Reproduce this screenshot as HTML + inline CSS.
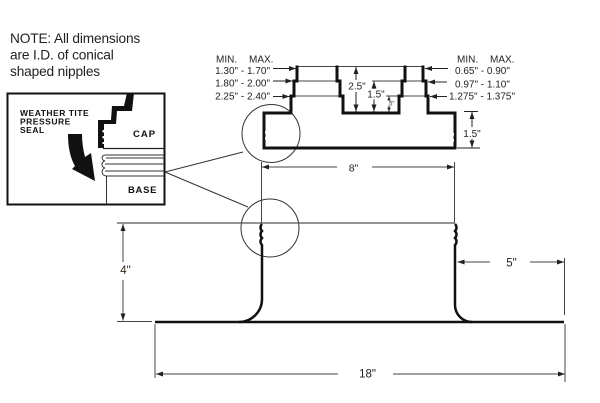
<!DOCTYPE html>
<html><head><meta charset="utf-8"><style>
html,body{margin:0;padding:0;background:#fff;width:600px;height:403px;overflow:hidden}
svg{display:block}
</style></head><body>
<svg width="600" height="403" viewBox="0 0 600 403" xmlns="http://www.w3.org/2000/svg" font-family="'Liberation Sans', Arial, sans-serif">
<defs>
<marker id="ar" markerUnits="userSpaceOnUse" markerWidth="7" markerHeight="5" refX="7" refY="2.5" orient="auto" viewBox="0 0 7 5"><path d="M0,0 L7,2.5 L0,5z" fill="#222"/></marker>
<marker id="sm" markerUnits="userSpaceOnUse" markerWidth="4" markerHeight="3.5" refX="4" refY="1.75" orient="auto" viewBox="0 0 4 3.5"><path d="M0,0 L4,1.75 L0,3.5z" fill="#222"/></marker>
</defs>

<!-- NOTE -->
<g fill="#222" font-size="13.7" letter-spacing="-0.15">
<text x="10" y="43">NOTE: All dimensions</text>
<text x="10" y="59.5">are I.D. of conical</text>
<text x="10" y="76">shaped nipples</text>
</g>

<!-- Inset box -->
<rect x="7.5" y="93.5" width="157" height="111" fill="#fff" stroke="#111" stroke-width="2"/>
<g font-weight="bold" fill="#111">
<text x="20" y="116" font-size="8.5" letter-spacing="0.5">WEATHER TITE</text>
<text x="20" y="124.5" font-size="8.5" letter-spacing="0.5">PRESSURE</text>
<text x="20" y="133" font-size="8.5" letter-spacing="0.5">SEAL</text>
<text x="133" y="137" font-size="9.5" letter-spacing="1">CAP</text>
<text x="128" y="193" font-size="9.5" letter-spacing="0.7">BASE</text>
</g>
<!-- cap stair -->
<polygon points="127,93 134,93 132,111 117,111 116,124 104,124 104,148 98,148 98,120 111,120 112,106 124,106" fill="#111"/>
<rect x="102.5" y="130" width="2.5" height="2.5" fill="#fff"/>
<rect x="102.5" y="136" width="2.5" height="2.5" fill="#fff"/>
<rect x="102.5" y="142" width="2.5" height="2" fill="#fff"/>
<line x1="103" y1="148.5" x2="164" y2="148.5" stroke="#222" stroke-width="1.2"/>
<!-- base ridges -->
<g stroke="#333" stroke-width="1" fill="none">
<path d="M164,155 H106 C101,155 101,160 105,161 C101,162 101,167 105,168 C101,169 101,175 106,176 H164"/>
<line x1="106" y1="158" x2="164" y2="158"/>
<line x1="105" y1="164" x2="164" y2="164"/>
<line x1="105" y1="171" x2="164" y2="171"/>
<line x1="106.5" y1="176" x2="106.5" y2="204"/>
</g>
<!-- big arrow -->
<path d="M68,134 C68,149 71,159 75,166 L72,169 L95,181 L91,153 L85,157 C83,149 82,142 82,134 Z" fill="#111"/>

<!-- connector lines -->
<line x1="165" y1="172" x2="243" y2="152" stroke="#333" stroke-width="1"/>
<line x1="165" y1="172" x2="248" y2="207" stroke="#333" stroke-width="1"/>

<!-- circles -->
<circle cx="271" cy="133.5" r="29" fill="none" stroke="#333" stroke-width="1"/>
<circle cx="270" cy="228" r="29" fill="none" stroke="#333" stroke-width="1"/>

<!-- CAP drawing: thin tier lines -->
<g stroke="#444" stroke-width="1">
<line x1="297" y1="66.5" x2="423" y2="66.5"/>
<line x1="294" y1="81" x2="340" y2="81"/>
<line x1="372" y1="81" x2="426" y2="81"/>
<line x1="291" y1="96" x2="343" y2="96"/>
<line x1="386" y1="96" x2="428" y2="96"/>
</g>
<!-- CAP thick outline -->
<g stroke="#111" stroke-width="3" fill="none" stroke-linecap="square">
<path d="M291,96 V113 H264 V148 H455 V113 H428 V96"/>
<path d="M343,96 V113 H399 V96"/>
<line x1="294" y1="81" x2="294" y2="96"/>
<line x1="297" y1="67" x2="297" y2="81"/>
<line x1="337" y1="67" x2="337" y2="81"/>
<line x1="340" y1="81" x2="340" y2="96"/>
<line x1="402" y1="81" x2="402" y2="96"/>
<line x1="405" y1="67" x2="405" y2="81"/>
<line x1="423" y1="67" x2="423" y2="81"/>
<line x1="426" y1="81" x2="426" y2="96"/>
</g>
<rect x="265" y="131" width="2" height="2.5" fill="#fff"/>
<rect x="265" y="137" width="2" height="2.5" fill="#fff"/>
<rect x="452" y="133" width="2" height="2.5" fill="#fff"/>
<rect x="452" y="139" width="2" height="2.5" fill="#fff"/>

<!-- cap labels -->
<g fill="#222" font-size="10">
<text x="216" y="62.5">MIN.</text><text x="249" y="62.5">MAX.</text>
<text x="270" y="74" text-anchor="end">1.30" - 1.70"</text>
<text x="270" y="86.5" text-anchor="end">1.80" - 2.00"</text>
<text x="270" y="99.3" text-anchor="end">2.25" - 2.40"</text>
<text x="457" y="62.5">MIN.</text><text x="490" y="62.5">MAX.</text>
<text x="455" y="74">0.65" - 0.90"</text>
<text x="455" y="87.5">0.97" - 1.10"</text>
<text x="449" y="99.3">1.275" - 1.375"</text>
<text x="357" y="89.5" text-anchor="middle">2.5"</text>
<text x="376" y="97.5" text-anchor="middle">1.5"</text>
<text x="472" y="137" text-anchor="middle">1.5"</text>
<text x="391" y="105.5" text-anchor="middle" font-size="6">.5"</text>
</g>
<g stroke="#222" stroke-width="1">
<line x1="273" y1="68.5" x2="296" y2="68.5" marker-end="url(#ar)"/>
<line x1="273" y1="81" x2="292.5" y2="81" marker-end="url(#ar)"/>
<line x1="273" y1="96.5" x2="289.5" y2="96.5" marker-end="url(#ar)"/>
<line x1="448" y1="68.5" x2="425" y2="68.5" marker-end="url(#ar)"/>
<line x1="447" y1="82" x2="428" y2="82" marker-end="url(#ar)"/>
<line x1="447" y1="96.5" x2="430" y2="96.5" marker-end="url(#ar)"/>
<line x1="356" y1="80" x2="356" y2="67" marker-end="url(#ar)"/>
<line x1="356" y1="92" x2="356" y2="111.5" marker-end="url(#ar)"/>
<line x1="374" y1="89" x2="374" y2="81.5" marker-end="url(#ar)"/>
<line x1="374" y1="99.5" x2="374" y2="111.5" marker-end="url(#ar)"/>
<line x1="389" y1="100" x2="389" y2="96.5" marker-end="url(#sm)"/>
<line x1="389" y1="106" x2="389" y2="111.5" marker-end="url(#sm)"/>
<line x1="464" y1="111.5" x2="478" y2="111.5"/>
<line x1="457" y1="148" x2="480" y2="148"/>
<line x1="472" y1="127" x2="472" y2="112" marker-end="url(#ar)"/>
<line x1="472" y1="139" x2="472" y2="147.5" marker-end="url(#ar)"/>
</g>

<!-- 8" dim -->
<g stroke="#444" stroke-width="1">
<line x1="261.5" y1="162" x2="261.5" y2="223"/>
<line x1="454.5" y1="162" x2="454.5" y2="223"/>
<line x1="337" y1="167" x2="262" y2="167" marker-end="url(#ar)"/>
<line x1="372" y1="167" x2="454" y2="167" marker-end="url(#ar)"/>
</g>
<text x="353.5" y="171.5" font-size="10.5" fill="#222" text-anchor="middle">8"</text>

<!-- body -->
<line x1="117" y1="223" x2="455" y2="223" stroke="#555" stroke-width="1.2"/>
<g stroke="#111" stroke-width="2.5" fill="none">
<path d="M262,224 C260,226 260,229 262,231 C260,233 260,236 262,238 C260,240 260,243 262,245 V299 A23,23 0 0 1 239,322"/>
<path d="M455,224 C457,226 457,229 455,231 C457,233 457,236 455,238 C457,240 457,243 455,245 V305 A17,17 0 0 0 472,322"/>
<line x1="155" y1="322" x2="564" y2="322"/>
</g>

<!-- dims -->
<g stroke="#444" stroke-width="1">
<line x1="117" y1="321.5" x2="152" y2="321.5"/>
<line x1="123" y1="262" x2="123" y2="224" marker-end="url(#ar)"/>
<line x1="123" y1="280" x2="123" y2="320.5" marker-end="url(#ar)"/>
<line x1="564.5" y1="258" x2="564.5" y2="315"/>
<line x1="490" y1="262" x2="457.5" y2="262" marker-end="url(#ar)"/>
<line x1="530" y1="262" x2="564" y2="262" marker-end="url(#ar)"/>
<line x1="155" y1="324" x2="155" y2="378"/>
<line x1="565" y1="324" x2="565" y2="382"/>
<line x1="338" y1="374" x2="156" y2="374" marker-end="url(#ar)"/>
<line x1="393" y1="374" x2="565" y2="374" marker-end="url(#ar)"/>
</g>
<g fill="#222" font-size="11.5" text-anchor="middle">
<text x="125.5" y="274" fill="#332a1a">4"</text>
<text x="511.5" y="266.5">5"</text>
<text x="367.5" y="377.5">18"</text>
</g>
</svg>
</body></html>
